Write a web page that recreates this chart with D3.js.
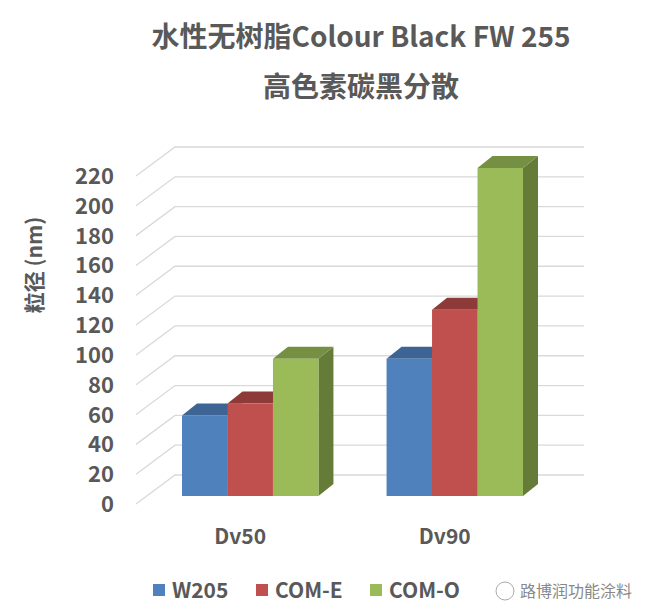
<!DOCTYPE html>
<html><head><meta charset="utf-8">
<script src="https://cdn.jsdelivr.net/npm/d3@7"></script>
<style>body{margin:0;background:#fff}text{font-family:"Noto Sans CJK SC","DejaVu Sans",sans-serif}</style>
</head><body><svg id="c" width="656" height="614"></svg>
<script>
const categories = ["Dv50", "Dv90"];
const series = ["W205", "COM-E", "COM-O"];
const values = [[54, 62, 92], [92, 125, 220]];
const ticks = [0, 20, 40, 60, 80, 100, 120, 140, 160, 180, 200, 220];
const front = ["#4f81bd", "#c0504d", "#9bbb59"];
const tops = ["#3d6494", "#8e3a38", "#758f43"];
const sides = ["#385d8a", "#7f3230", "#657c38"];

const svg = d3.select("#c");
const gray = "#595959";

// front plane of the floor / wall geometry
const y = d3.scaleLinear().domain([0, 220]).range([504, 176]);
const wallDx = 39, wallDy = -29;
const wallLeft = 136, wallRight = 584;

// gridlines: diagonal on the side wall, then horizontal across the back
ticks.forEach(t => {
  const yy = y(t);
  svg.append("path")
    .attr("d", `M${wallLeft},${yy}L${wallLeft + wallDx},${yy + wallDy}L${wallRight},${yy + wallDy}`)
    .attr("fill", "none").attr("stroke", "#d9d9d9").attr("stroke-width", 1.3);
  svg.append("text").attr("x", 114).attr("y", yy + 8).attr("text-anchor", "end")
    .attr("font-size", 22).attr("font-weight", "bold").attr("fill", gray).text(t);
});

// bars sit a little behind the front plane
const by = d3.scaleLinear().domain([0, 220]).range([496, 168]);
const x0 = d3.scaleBand().domain(categories).range([182, 523]).paddingInner(0.333).paddingOuter(0);
const x1 = d3.scaleBand().domain(series).range([0, x0.bandwidth()]);
const dx = 15, dy = -12;

categories.forEach((c, ci) => {
  series.forEach((s, si) => {
    const v = values[ci][si];
    const xl = x0(c) + x1(s), w = x1.bandwidth(), yt = by(v), yb = by(0);
    const g = svg.append("g");
    g.append("path").attr("d", `M${xl + w},${yt}L${xl + w + dx},${yt + dy}L${xl + w + dx},${yb + dy}L${xl + w},${yb}Z`).attr("fill", sides[si]);
    g.append("path").attr("d", `M${xl},${yt}L${xl + dx},${yt + dy}L${xl + w + dx},${yt + dy}L${xl + w},${yt}Z`).attr("fill", tops[si]);
    g.append("rect").attr("x", xl).attr("y", yt).attr("width", w).attr("height", yb - yt).attr("fill", front[si]);
  });
  svg.append("text").attr("x", x0(c) + x0.bandwidth() / 2 - 10).attr("y", 544).attr("text-anchor", "middle")
    .attr("font-size", 21).attr("font-weight", "bold").attr("fill", gray).text(c);
});

// titles
svg.append("text").attr("x", 361).attr("y", 47).attr("text-anchor", "middle")
  .attr("font-size", 28).attr("font-weight", "bold").attr("fill", gray).text("水性无树脂Colour Black FW 255");
svg.append("text").attr("x", 361).attr("y", 97).attr("text-anchor", "middle")
  .attr("font-size", 28).attr("font-weight", "bold").attr("fill", gray).text("高色素碳黑分散");
svg.append("text").attr("transform", "translate(42,265) rotate(-90)").attr("text-anchor", "middle")
  .attr("font-size", 21).attr("font-weight", "bold").attr("fill", gray).text("粒径 (nm)");

// legend
const legX = [153, 256, 370];
series.forEach((s, i) => {
  svg.append("rect").attr("x", legX[i]).attr("y", 584).attr("width", 12).attr("height", 12).attr("fill", front[i]);
  svg.append("text").attr("x", legX[i] + 19).attr("y", 598).attr("font-size", 21).attr("font-weight", "bold")
    .attr("fill", gray).text(s);
});
svg.append("text").attr("x", 520).attr("y", 597).attr("font-size", 16).attr("fill", "#888").text("路博润功能涂料");
svg.append("circle").attr("cx", 505).attr("cy", 591).attr("r", 9).attr("fill", "none").attr("stroke", "#aaa");
</script></body></html>
